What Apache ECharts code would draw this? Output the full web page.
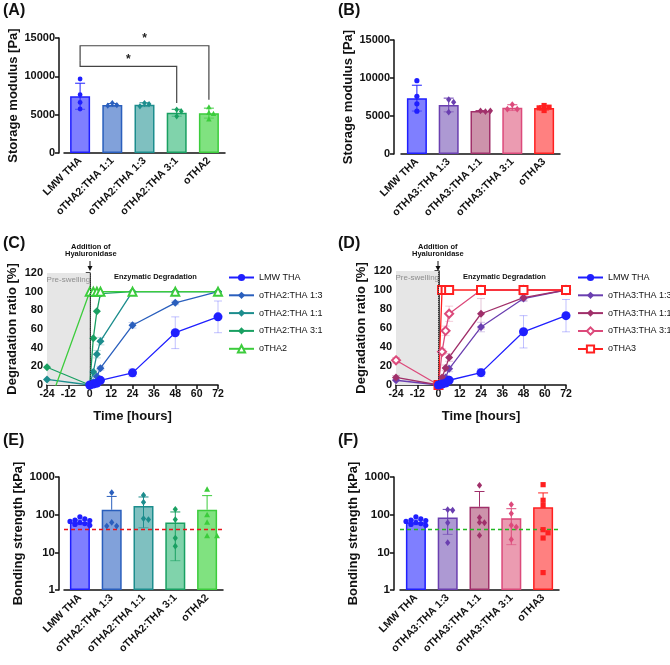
<!DOCTYPE html>
<html>
<head>
<meta charset="utf-8">
<script src="https://cdn.jsdelivr.net/npm/echarts@6/dist/echarts.min.js"></script>
<style>
  html, body { margin: 0; background: #fff; }
  #chart { width: 670px; height: 665px; }
</style>
</head>
<body>
<div id="chart"></div>
<script>
const FONT = 'Liberation Sans, Arial, sans-serif'

// (A) storage modulus, oTHA2 blends
const catsA = ['LMW THA', 'oTHA2:THA 1:1', 'oTHA2:THA 1:3', 'oTHA2:THA 3:1', 'oTHA2']
const meanA = [7400, 6250, 6300, 5250, 5200]
const sdA = [1700, 200, 250, 450, 650]
const ptsA = [[9650, 7600, 6600, 5740], [6170, 6520, 6260], [6090, 6520, 6390], [5650, 5430, 4780], [5960, 5220, 5090, 4350]]
// significance brackets: [from, to, left leg start, bar height, right leg end]
const sigA = [[0, 4, 12040, 13990, 6950], [0, 3, 12040, 11300, 6520]]

// (B) storage modulus, oTHA3 blends
const catsB = ['LMW THA', 'oTHA3:THA 1:3', 'oTHA3:THA 1:1', 'oTHA3:THA 3:1', 'oTHA3']
const meanB = [7350, 6450, 5650, 6100, 6050]
const sdB = [1700, 900, 60, 380, 300]
const ptsB = [[9650, 7600, 6600, 5630], [7160, 6810, 5500], [5590, 5680, 5680], [6510, 5900, 5900], [6380, 6160, 5720, 6070]]

// (C)/(D) degradation ratio over time
const hours = [-24, 0, 2, 4, 6, 24, 48, 72]
const degLMW = [null, 0, 1, 2, 5, 13, 56, 73]
const sdLMW = [0, 0, 0, 1, 1, 4, 17, 17]
const degC13 = [null, 0, 3, 9, 18, 64, 88, 100]
const degC11 = [6, 0, 14, 33, 47, 100, 100, 100]
const degC31 = [19, 0, 50, 79, 98, 100, 100, 100]
const degOTHA2 = [-27, 100, 100, 100, 100, 100, 100, 100]
const sdC13 = [0, 0, 1, 1, 2, 3, 2, 0]
const sdC11 = [0, 0, 2, 4, 4, 0, 0, 0]
const degD13 = [5, 0, 3, 8, 17, 61, 91, 100]
const degD11 = [8, 0, 8, 18, 29, 75, 92, 100]
const degD31 = [26, 0, 35, 57, 75, 100, 100, 100]
const degOTHA3 = [null, 0, 100, 100, 100, 100, 100, 100]
const sdD13 = [0, 0, 1, 2, 3, 5, 3, 0]
const sdD11 = [2, 0, 2, 3, 4, 16, 3, 0]
const sdD31 = [3, 0, 3, 5, 8, 0, 0, 0]

// (E) bonding strength, oTHA2 blends
const catsE = ['LMW THA', 'oTHA2:THA 1:3', 'oTHA2:THA 1:1', 'oTHA2:THA 3:1', 'oTHA2']
const meanE = [63, 135, 170, 62, 135]
const sdE = [9, 170, 125, 56, 185]
const ptsE = [[88, 78, 72, 70, 66, 62, 58, 55, 52], [385, 62, 50, 50], [330, 215, 79, 74], [139, 74, 24, 14.6], [460, 97, 61, 27, 27]]
const limitE = 40

// (F) bonding strength, oTHA3 blends
const catsF = ['LMW THA', 'oTHA3:THA 1:3', 'oTHA3:THA 1:1', 'oTHA3:THA 3:1', 'oTHA3']
const meanF = [63, 84, 162, 80, 158]
const sdF = [9, 54, 250, 64, 220]
const ptsF = [[88, 78, 72, 70, 66, 62, 58, 55, 52], [136, 131, 61, 18], [600, 84, 62, 61, 28], [185, 107, 52, 47, 22], [626, 241, 175, 40, 33, 24, 2.9]]
const limitF = 40

// colours
const C_BLUE = '#1f1fff'
const C_STEEL = '#2a5fbd'
const C_TEAL = '#1c8d8d'
const C_GTEAL = '#19a062'
const C_GREEN = '#3ccc3c'
const C_PURPLE = '#6a3fb0'
const C_MAROON = '#a0306a'
const C_PINK = '#dc4a7b'
const C_RED = '#ff2020'

const edgeA = [C_BLUE, C_STEEL, C_TEAL, C_GTEAL, C_GREEN]
const fillA = ['#7f7fff', '#81a1da', '#7fc0c0', '#80d3ab', '#80e280']
const shapeA = ['circle', 'diamond', 'diamond', 'diamond', 'triangle']
const edgeB = [C_BLUE, C_PURPLE, C_MAROON, C_PINK, C_RED]
const fillB = ['#7f7fff', '#ad99d3', '#cd93ab', '#eb9bb1', '#ff8080']
const shapeB = ['circle', 'diamond', 'diamond', 'diamond', 'rect']
const edgeE = [C_BLUE, C_STEEL, C_TEAL, C_GTEAL, C_GREEN]

const chart = echarts.init(document.getElementById('chart'))

function marker (shape, x, y, r, color) {
  if (shape === 'circle') return { type: 'circle', shape: { cx: x, cy: y, r: r }, style: { fill: color } }
  if (shape === 'rect') return { type: 'rect', shape: { x: x - r, y: y - r, width: 2 * r, height: 2 * r }, style: { fill: color } }
  if (shape === 'diamond') return { type: 'polygon', shape: { points: [[x, y - r * 1.3], [x + r, y], [x, y + r * 1.3], [x - r, y]] }, style: { fill: color } }
  return { type: 'polygon', shape: { points: [[x, y - r * 1.3], [x + r * 1.15, y + r * 0.8], [x - r * 1.15, y + r * 0.8]] }, style: { fill: color } }
}

// error bar + individual points for one bar group
function dotsRender (means, sds, pts, edges, shapes, isLog, r) {
  return function (params, api) {
    const i = params.dataIndex
    const col = edges[i]
    const children = []
    const c = api.coord([i, means[i]])
    const hi = api.coord([i, means[i] + sds[i]])
    const loV = means[i] - sds[i]
    const lo = (isLog && loV <= 0) ? null : api.coord([i, loV])
    children.push({ type: 'line', shape: { x1: c[0], y1: lo ? lo[1] : c[1], x2: c[0], y2: hi[1] }, style: { stroke: col, lineWidth: 1 } })
    children.push({ type: 'line', shape: { x1: c[0] - 5, y1: hi[1], x2: c[0] + 5, y2: hi[1] }, style: { stroke: col, lineWidth: 1 } })
    if (lo) children.push({ type: 'line', shape: { x1: c[0] - 5, y1: lo[1], x2: c[0] + 5, y2: lo[1] }, style: { stroke: col, lineWidth: 1, opacity: 0.6 } })
    // spread points that would overlap, staying inside the bar
    const ys = pts[i].map(v => api.coord([i, v])[1]).sort((a, b) => a - b)
    const d = r * 1.9
    const offs = [0, d, -d, 2 * d, -2 * d].filter(o => Math.abs(o) <= 10)
    const placed = []
    ys.forEach(y => {
      let best = c[0]
      let bestGap = -1
      for (const o of offs) {
        const x = c[0] + o
        const gap = placed.reduce((m, p) => Math.min(m, Math.hypot(p[0] - x, p[1] - y)), 99)
        if (gap >= d) { best = x; break }
        if (gap > bestGap) { bestGap = gap; best = x }
      }
      placed.push([best, y])
    })
    placed.forEach(p => children.push(marker(shapes[i], p[0], p[1], r, col)))
    return { type: 'group', children: children }
  }
}

function lineErrRender (color) {
  return function (params, api) {
    const sd = api.value(2)
    if (!sd) return
    const t = api.value(0)
    const v = api.value(1)
    const a = api.coord([t, v + sd])
    const b = api.coord([t, v - sd])
    const s = { stroke: color, lineWidth: 1, opacity: 0.28 }
    return {
      type: 'group',
      children: [
        { type: 'line', shape: { x1: a[0], y1: a[1], x2: b[0], y2: b[1] }, style: s },
        { type: 'line', shape: { x1: a[0] - 4, y1: a[1], x2: a[0] + 4, y2: a[1] }, style: s },
        { type: 'line', shape: { x1: b[0] - 4, y1: b[1], x2: b[0] + 4, y2: b[1] }, style: s }
      ]
    }
  }
}

function sigRender (rows) {
  return function (params, api) {
    const s = rows[params.dataIndex]
    const p1 = api.coord([s[0], s[2]])
    const p2 = api.coord([s[0], s[3]])
    const p3 = api.coord([s[1], s[3]])
    const p4 = api.coord([s[1], s[4]])
    return {
      type: 'group',
      children: [
        { type: 'polyline', shape: { points: [p1, p2, p3, p4] }, style: { stroke: '#444', lineWidth: 1.2, fill: null } },
        { type: 'text', style: { x: (p2[0] + p3[0]) / 2, y: p2[1] - 1, text: '*', fill: '#222', font: 'bold 12px ' + FONT, align: 'center', verticalAlign: 'bottom' } }
      ]
    }
  }
}

function pair (vals) {
  return hours.map((t, i) => [t, vals[i]]).filter(d => d[1] !== null)
}
function triple (vals, sds) {
  return hours.map((t, i) => [t, vals[i], sds[i]]).filter(d => d[1] !== null)
}

const plain = v => String(v)
const axisLine = { lineStyle: { color: '#111', width: 1.5 } }
const axisTick = { length: 4, lineStyle: { color: '#111', width: 1.5 } }
const yLabel = { color: '#111', fontWeight: 'bold', fontSize: 11, fontFamily: FONT, margin: 4, formatter: plain }
const nameStyle = { color: '#111', fontWeight: 'bold', fontSize: 13, fontFamily: FONT }

function catAxis (cats, gi) {
  return {
    type: 'category', gridIndex: gi, data: cats,
    axisLine: axisLine,
    axisTick: { alignWithLabel: true, length: 4, lineStyle: { color: '#111', width: 1.5 } },
    axisLabel: { interval: 0, rotate: 45, color: '#111', fontWeight: 'bold', fontSize: 10.5, fontFamily: FONT, margin: 6 }
  }
}

function barSeries (gi, means, edges, fills, name) {
  return {
    type: 'bar', name: name, xAxisIndex: gi, yAxisIndex: gi, barWidth: 20,
    data: means.map((v, i) => ({ value: v, itemStyle: { color: fills[i], borderColor: edges[i], borderWidth: 1.5 } }))
  }
}

function dotSeries (gi, means, sds, pts, edges, shapes, isLog, r) {
  return {
    type: 'custom', xAxisIndex: gi, yAxisIndex: gi, z: 5, clip: false,
    data: means.map((v, i) => [i, v]),
    renderItem: dotsRender(means, sds, pts, edges, shapes, isLog, r)
  }
}

function degLine (gi, name, vals, color, symbol, size) {
  return {
    type: 'line', name: name, xAxisIndex: gi, yAxisIndex: gi,
    data: pair(vals), symbol: symbol, symbolSize: size,
    lineStyle: { color: color, width: 1.3 }, itemStyle: { color: color },
    z: 4
  }
}

function errSeries (gi, vals, sds, color) {
  return {
    type: 'custom', xAxisIndex: gi, yAxisIndex: gi, z: 3,
    data: triple(vals, sds), renderItem: lineErrRender(color)
  }
}

// dashed threshold line, carried by an empty line series
function limitSeries (gi, v, color) {
  return {
    type: 'line', name: 'limit' + gi, xAxisIndex: gi, yAxisIndex: gi, data: [], z: 4,
    itemStyle: { color: color }, lineStyle: { color: color },
    markLine: {
      silent: true, symbol: 'none', label: { show: false },
      lineStyle: { color: color, width: 1.3, type: [4, 3], opacity: 1 },
      data: [{ yAxis: v }]
    }
  }
}

const timeAxis = gi => ({
  type: 'value', gridIndex: gi, min: -24, max: 72, interval: 12,
  name: 'Time [hours]', nameLocation: 'middle', nameGap: 25, nameTextStyle: nameStyle,
  axisLine: axisLine, axisTick: axisTick, splitLine: { show: false },
  axisLabel: { color: '#111', fontWeight: 'bold', fontSize: 10.5, fontFamily: FONT, margin: 4 }
})
const degAxis = gi => ({
  type: 'value', gridIndex: gi, min: 0, max: 120, interval: 20,
  name: 'Degradation ratio [%]', nameLocation: 'middle', nameGap: 28, nameTextStyle: nameStyle,
  axisLine: { show: true, lineStyle: axisLine.lineStyle }, axisTick: { show: true, length: 4, lineStyle: axisTick.lineStyle },
  splitLine: { show: false }, axisLabel: yLabel
})
const modAxis = (gi, off) => ({
  type: 'value', gridIndex: gi, min: 0, max: 15000, interval: 5000, offset: off,
  name: 'Storage modulus [Pa]', nameLocation: 'middle', nameGap: 39, nameTextStyle: nameStyle,
  axisLine: { show: true, lineStyle: axisLine.lineStyle }, axisTick: { show: true, length: 4, lineStyle: axisTick.lineStyle },
  splitLine: { show: false }, axisLabel: yLabel
})
const bondAxis = (gi, off) => ({
  type: 'log', gridIndex: gi, min: 1, max: 1000, logBase: 10, offset: off,
  name: 'Bonding strength [kPa]', nameLocation: 'middle', nameGap: 34, nameTextStyle: nameStyle,
  axisLine: { show: true, lineStyle: axisLine.lineStyle }, axisTick: { show: true, length: 4, lineStyle: axisTick.lineStyle },
  minorTick: { show: false }, splitLine: { show: false }, axisLabel: Object.assign({}, yLabel, { fontSize: 11.5 })
})

const preSwell = {
  silent: true,
  itemStyle: { color: '#e6e6e6' },
  label: { show: true, position: 'insideTop', distance: 3, color: '#8e8e8e', fontSize: 8, fontFamily: FONT },
  data: [[{ xAxis: -24, name: 'Pre-swelling' }, { xAxis: 0 }]]
}
const addLine = {
  silent: true, symbol: 'none', label: { show: false },
  lineStyle: { color: '#333', width: 1, type: 'dotted' },
  data: [{ xAxis: 0 }]
}

function txt (left, top, text, font, color, align) {
  return { type: 'text', left: left, top: top, style: { text: text, font: font, fill: color || '#111', align: align || 'left' } }
}

const lblFont = 'bold 16px ' + FONT
const noteFont = 'bold 7.5px ' + FONT

const cSeries = [
  Object.assign(degLine(2, 'LMW THA', degLMW, C_BLUE, 'circle', 9), { markArea: preSwell, markLine: addLine, z: 6 }),
  degLine(2, 'oTHA2:THA 1:3', degC13, C_STEEL, 'diamond', 8),
  degLine(2, 'oTHA2:THA 1:1', degC11, C_TEAL, 'diamond', 8),
  degLine(2, 'oTHA2:THA 3:1', degC31, C_GTEAL, 'diamond', 8),
  degLine(2, 'oTHA2', degOTHA2, C_GREEN, 'emptyTriangle', 8),
  errSeries(2, degLMW, sdLMW, C_BLUE),
  errSeries(2, degC13, sdC13, C_STEEL),
  errSeries(2, degC11, sdC11, C_TEAL)
]
const dSeries = [
  Object.assign(degLine(3, 'LMW THA', degLMW, C_BLUE, 'circle', 9), { markArea: preSwell, markLine: addLine, z: 6 }),
  degLine(3, 'oTHA3:THA 1:3', degD13, C_PURPLE, 'diamond', 8),
  degLine(3, 'oTHA3:THA 1:1', degD11, C_MAROON, 'diamond', 8),
  degLine(3, 'oTHA3:THA 3:1', degD31, C_PINK, 'emptyDiamond', 8),
  degLine(3, 'oTHA3', degOTHA3, C_RED, 'emptyRect', 8),
  errSeries(3, degLMW, sdLMW, C_BLUE),
  errSeries(3, degD13, sdD13, C_PURPLE),
  errSeries(3, degD11, sdD11, C_MAROON),
  errSeries(3, degD31, sdD31, C_PINK)
]

const legendBase = {
  orient: 'vertical', padding: 0, itemWidth: 25, itemHeight: 9, itemGap: 8.8,
  textStyle: { color: '#111', fontSize: 9, fontFamily: FONT, overflow: 'none' }
}

chart.setOption({
  animation: false,
  textStyle: { fontFamily: FONT },
  grid: [
    { left: 64, top: 38, width: 161, height: 115 },
    { left: 401, top: 40, width: 159, height: 114 },
    { left: 47, top: 273, width: 171, height: 112 },
    { left: 396, top: 271, width: 170, height: 114 },
    { left: 64, top: 477, width: 159, height: 113 },
    { left: 400, top: 477, width: 159, height: 113 }
  ],
  xAxis: [catAxis(catsA, 0), catAxis(catsB, 1), timeAxis(2), timeAxis(3), catAxis(catsE, 4), catAxis(catsF, 5)],
  yAxis: [modAxis(0, 5), modAxis(1, 7), degAxis(2), degAxis(3), bondAxis(4, 5), bondAxis(5, 6)],
  legend: [
    Object.assign({ left: 228, top: 273, data: ['LMW THA', 'oTHA2:THA 1:3', 'oTHA2:THA 1:1', 'oTHA2:THA 3:1', 'oTHA2'] }, legendBase),
    Object.assign({ left: 577, top: 273, data: ['LMW THA', 'oTHA3:THA 1:3', 'oTHA3:THA 1:1', 'oTHA3:THA 3:1', 'oTHA3'] }, legendBase)
  ],
  graphic: [
    txt(3, 3, '(A)', lblFont), txt(338, 3, '(B)', lblFont),
    txt(3, 236, '(C)', lblFont), txt(338, 236, '(D)', lblFont),
    txt(3, 433, '(E)', lblFont), txt(338, 433, '(F)', lblFont),
    txt(71, 243, 'Addition of', noteFont), txt(65, 250, 'Hyaluronidase', noteFont),
    txt(418, 243, 'Addition of', noteFont), txt(412, 250, 'Hyaluronidase', noteFont),
    txt(114, 273, 'Enzymatic Degradation', noteFont), txt(463, 273, 'Enzymatic Degradation', noteFont),
    { type: 'line', shape: { x1: 90, y1: 261, x2: 90, y2: 268 }, style: { stroke: '#111', lineWidth: 1 } },
    { type: 'polygon', shape: { points: [[87.5, 266], [92.5, 266], [90, 271]] }, style: { fill: '#111' } },
    { type: 'line', shape: { x1: 438, y1: 261, x2: 438, y2: 268 }, style: { stroke: '#111', lineWidth: 1 } },
    { type: 'polygon', shape: { points: [[435.5, 266], [440.5, 266], [438, 271]] }, style: { fill: '#111' } }
  ],
  series: [
    barSeries(0, meanA, edgeA, fillA, 'A'),
    dotSeries(0, meanA, sdA, ptsA, edgeA, shapeA, false, 2.4),
    { type: 'custom', xAxisIndex: 0, yAxisIndex: 0, z: 6, clip: false, data: sigA.map(s => [s[0], s[3]]), renderItem: sigRender(sigA) },
    barSeries(1, meanB, edgeB, fillB, 'B'),
    dotSeries(1, meanB, sdB, ptsB, edgeB, shapeB, false, 2.6),
    ...cSeries,
    ...dSeries,
    barSeries(4, meanE, edgeE, fillA, 'E'),
    limitSeries(4, limitE, '#e8141a'),
    dotSeries(4, meanE, sdE, ptsE, edgeE, shapeA, true, 2.6),
    barSeries(5, meanF, edgeB, fillB, 'F'),
    limitSeries(5, limitF, '#22b822'),
    dotSeries(5, meanF, sdF, ptsF, edgeB, shapeB, true, 2.6)
  ]
})
</script>
</body>
</html>
